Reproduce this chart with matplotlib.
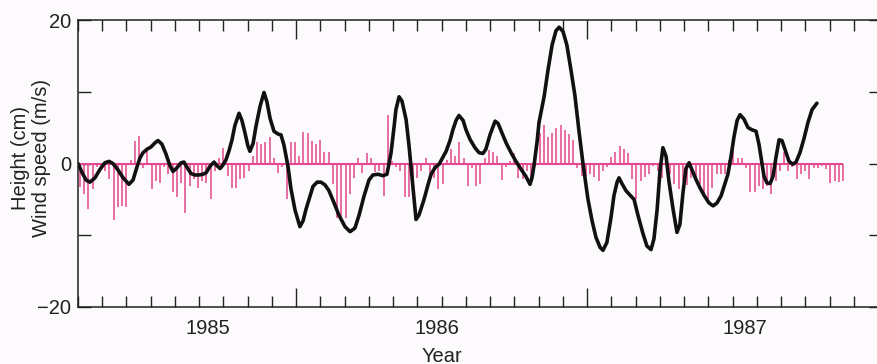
import numpy as np
import matplotlib
matplotlib.use("Agg")
import matplotlib.pyplot as plt
from matplotlib.ticker import MultipleLocator, FixedLocator, NullFormatter
import matplotlib.transforms as mtransforms

plt.rcParams['font.family'] = ['Liberation Sans', 'DejaVu Sans']

# ---- data -------------------------------------------------------------
# time axis in months from the left edge of the plot
curve_t = [0.00, 0.16, 0.33, 0.49, 0.70, 0.91, 1.11, 1.28, 1.44, 1.65, 1.86, 2.10, 2.27, 2.43,
           2.56, 2.68, 2.85, 3.01, 3.18, 3.30, 3.46, 3.63, 3.79, 3.92, 4.08, 4.25, 4.37, 4.49,
           4.66, 4.82, 4.99, 5.15, 5.28, 5.44, 5.61, 5.73, 5.86, 5.98, 6.10, 6.23, 6.35, 6.47,
           6.64, 6.76, 6.89, 7.01, 7.09, 7.22, 7.34, 7.51, 7.67, 7.79, 7.92, 8.08, 8.25, 8.37,
           8.49, 8.66, 8.78, 8.95, 9.15, 9.28, 9.40, 9.57, 9.69, 9.86, 10.02, 10.19, 10.35, 10.56,
           10.76, 11.01, 11.22, 11.42, 11.59, 11.79, 12.00, 12.16, 12.37, 12.58, 12.74, 12.91,
           13.03, 13.11, 13.24, 13.36, 13.53, 13.65, 13.73, 13.86, 13.94, 14.06, 14.27, 14.43,
           14.56, 14.72, 14.89, 15.05, 15.18, 15.34, 15.46, 15.59, 15.71, 15.88, 16.00, 16.16,
           16.37, 16.54, 16.70, 16.82, 16.99, 17.20, 17.32, 17.48, 17.65, 17.86, 18.06, 18.27,
           18.47, 18.64, 18.72, 18.80, 18.93, 19.01, 19.13, 19.22, 19.38, 19.55, 19.71, 19.84,
           20.00, 20.16, 20.33, 20.49, 20.66, 20.82, 21.03, 21.20, 21.36, 21.53, 21.65, 21.81,
           21.98, 22.10, 22.23, 22.31, 22.43, 22.60, 22.76, 22.93, 23.09, 23.30, 23.46, 23.63,
           23.75, 23.88, 24.00, 24.12, 24.25, 24.37, 24.54, 24.70, 24.82, 24.95, 25.07, 25.20,
           25.32, 25.48, 25.65, 25.81, 26.02, 26.19, 26.35, 26.52, 26.68, 26.80, 26.93, 27.05,
           27.18, 27.30, 27.46, 27.63, 27.79, 27.96, 28.08, 28.16, 28.29, 28.41, 28.54, 28.66,
           28.78, 28.91, 29.03, 29.15, 29.32, 29.48, 29.61, 29.77, 29.94, 30.10, 30.27, 30.47]
# sea level height (cm)
height_cm = [0.0, -1.2, -2.3, -2.6, -2.0, -0.8, 0.1, 0.3, 0.0, -0.9, -2.0, -2.9, -2.3, -0.5,
             0.8, 1.5, 2.0, 2.3, 2.9, 3.2, 2.7, 1.3, -0.3, -1.1, -0.6, 0.1, 0.2, -0.5,
             -1.4, -1.6, -1.6, -1.5, -1.3, -0.4, 0.2, -0.3, -0.7, -0.2, 0.5, 1.8, 3.3, 5.3,
             7.0, 6.0, 4.2, 2.4, 1.7, 2.8, 5.2, 8.0, 9.9, 8.6, 6.3, 4.5, 4.1, 4.0,
             2.6, -0.4, -3.5, -6.5, -8.8, -8.0, -6.4, -4.5, -3.2, -2.6, -2.6, -3.0, -3.8, -5.5,
             -7.2, -8.8, -9.5, -9.0, -7.2, -4.6, -2.3, -1.6, -1.5, -1.7, -1.5, 1.5,
             5.0, 7.5, 9.3, 8.7, 6.1, 2.5, -0.4, -5.0, -7.8, -7.2, -5.0, -3.0,
             -1.5, -0.6, -0.1, 0.9, 1.7, 3.2, 4.7, 6.0, 6.7, 6.0, 4.7, 3.4,
             2.2, 1.5, 1.4, 2.0, 4.0, 5.9, 5.6, 4.3, 2.9, 1.5, 0.3, -0.8,
             -1.8, -2.9, -2.0, -0.4, 3.0, 5.7, 7.8, 9.3, 13.0, 16.5, 18.5, 19.0,
             18.4, 16.5, 13.0, 9.5, 4.5, 0.1, -5.0, -8.0, -10.3, -11.7, -12.1, -11.0,
             -7.5, -4.5, -2.6, -2.0, -2.8, -3.8, -4.4, -5.0, -7.2, -9.8, -11.5, -12.0,
             -10.5, -6.5, -1.0, 2.2, 1.0, -2.5, -6.4, -9.6, -8.5, -4.0, -0.7, 0.1,
             -0.9, -2.2, -3.4, -4.4, -5.5, -5.9, -5.5, -4.5, -2.8, -1.5, 1.0, 3.7,
             6.0, 6.8, 6.2, 5.0, 4.7, 4.5, 2.7, 1.0, -1.8, -2.7, -2.8, -1.8,
             0.8, 3.3, 3.2, 2.0, 0.3, -0.1, 0.2, 1.5, 3.5, 5.7, 7.5, 8.4]

# wind speed (m/s), evenly spaced samples
wind_first_t = 0.08
wind_last_t = 31.55
wind_ms = [-3.3, -4.3, -6.4, -3.6, -0.5, -0.8, -1.1, -2.2, -7.9, -6.0, -5.9, -6.0, 0.5, 3.1, 3.9,
           -0.6, 2.0, -3.5, -2.5, -2.7, -0.5, -1.5, -4.0, -4.6, -2.7, -6.9, -3.2, -2.2, -3.4,
           -2.5, -2.7, -5.0, -1.1, 0.8, 2.2, -1.7, -3.4, -3.4, -2.2, -2.0, -1.1, 1.0, 3.0, 2.7,
           3.0, 3.7, 0.8, -1.3, -0.5, -5.0, 3.0, 3.0, 1.0, 4.4, 4.2, 3.1, 2.7, 3.3,
           1.6, 1.6, -2.9, -7.6, -7.6, -7.6, -4.3, -2.0, 0.8, -1.3, 1.5, 0.8, -1.2, -1.0, -4.5,
           6.8, 0.3, -0.5, -1.0, -4.6, -4.6, -3.2, -2.0, -1.1, 0.7, -1.5, -2.0, -3.6, -2.9, 0.5,
           2.0, 1.0,
           3.0, 0.7, -3.2, -0.6, -3.1, -2.9, 0.7, 1.9, 1.6, 1.1, -2.3, -0.5, 0.3, 1.4, -2.0,
           -2.2, -1.0, -2.9, 0.8, 4.3, 5.4, 3.7, 4.2, 5.0, 5.3, 4.7, 4.1, 3.3, -0.6, -1.8, -1.8,
           -1.5, -1.9, -2.5, -1.1, -0.5, 0.9, 1.6, 2.4, 2.0, 1.5, -2.1, -4.9, -2.5, -1.9, -1.5,
           -0.4, -1.0, -2.0, 0.5, -1.5, -2.9, -3.5, -2.5, -3.0, -2.0, -2.5, -2.9, -4.3, -5.0,
           -3.4, -1.5, -1.5,
           -1.5, 0.5, 2.0, 0.8, 0.7, -0.6, -4.0, -4.0, -3.2, -3.6, -3.1, -4.3, -2.5, -1.0, 1.6,
           -1.1, -0.5, -2.2, -1.5, -1.1, -2.2, -0.6, -0.6, -0.4, -0.8, -2.7, -2.5, -2.6, -2.4]

year_labels = ['1985', '1986', '1987']
year_label_t = [5.36, 14.80, 27.51]
year_start_ticks = [9, 21]
y_ticks = [-20, 0, 20]
y_minor = [-10, 10]

# ---- figure -----------------------------------------------------------
W, H = 878, 364
fig = plt.figure(figsize=(W / 100, H / 100), dpi=100)
bg = '#fdfafd'
fig.patch.set_facecolor(bg)
ax = fig.add_axes([78 / W, 1 - 307 / H, (881 - 78) / W, (307 - 20) / H])
ax.set_facecolor(bg)

pink = '#e4478b'
FS = 14.5
wind_t = np.linspace(wind_first_t, wind_last_t, len(wind_ms))
ax.vlines(wind_t, 0, wind_ms, color=pink, lw=1.1)
ax.hlines(0, 0, wind_t[-1], color=pink, lw=1.5)
ax.plot(curve_t, height_cm, color='#111111', lw=2.6, solid_joinstyle='round',
        solid_capstyle='round')

ax.set_xlim(0, (881 - 78) / 24.25)
ax.set_ylim(-20, 20)

for s in ax.spines.values():
    s.set_linewidth(1.1)
    s.set_color('#222222')

ax.yaxis.set_major_locator(FixedLocator(y_ticks))
ax.yaxis.set_minor_locator(FixedLocator(y_minor))
ax.tick_params(axis='y', which='both', direction='in', length=9, width=1.0,
               left=True, right=True, labelsize=FS, pad=5, colors='#222222')
ax.xaxis.set_major_locator(FixedLocator(year_start_ticks))
ax.xaxis.set_minor_locator(MultipleLocator(1))
ax.xaxis.set_major_formatter(NullFormatter())
ax.tick_params(axis='x', which='major', direction='in', length=14, width=1.0,
               top=True, bottom=True, colors='#222222')
ax.tick_params(axis='x', which='minor', direction='in', length=8, width=1.0,
               top=True, bottom=True, colors='#222222')

trans = mtransforms.blended_transform_factory(ax.transData, fig.transFigure)
for lab, t in zip(year_labels, year_label_t):
    ax.text(t, 1 - 328 / H, lab, transform=trans, ha='center', va='center',
            fontsize=FS, color='#222222')
ax.text(15.0, 1 - 356 / H, 'Year', transform=trans, ha='center', va='center',
        fontsize=FS, color='#222222')

fig.text(31 / W, 1 - 158 / H, 'Height (cm)\nWind speed (m/s)', rotation=90,
         ha='center', va='center', fontsize=FS, color='#222222',
         multialignment='center', linespacing=1.1)

fig.savefig('out.png', dpi=100, facecolor=bg)
